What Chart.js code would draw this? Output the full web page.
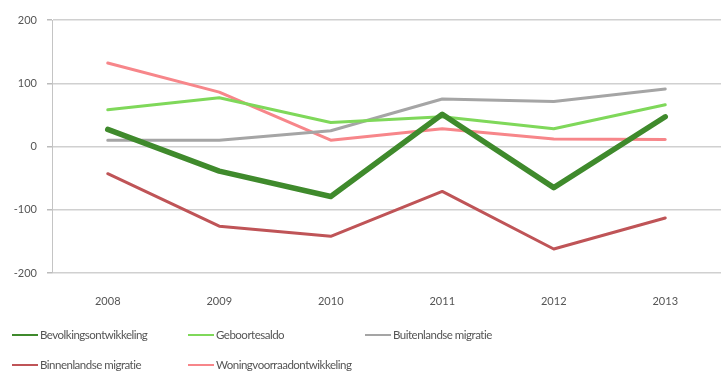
<!DOCTYPE html>
<html>
<head>
<meta charset="utf-8">
<script src="https://cdn.jsdelivr.net/npm/chart.js@4"></script>
<style>
  html, body { margin: 0; padding: 0; background: #fff; }
  #wrap { width: 721px; height: 374px; position: relative; }
</style>
</head>
<body>
<div id="wrap"><canvas id="myChart"></canvas></div>
<script>
const years = ['2008', '2009', '2010', '2011', '2012', '2013'];
const bevolking = [27, -39, -79, 51, -65, 47];
const geboorte = [58, 77, 38, 47, 28, 66];
const buitenland = [10, 10, 25, 75, 71, 91];
const binnenland = [-43, -126, -142, -71, -162, -113];
const woningvoorraad = [132, 86, 10, 28, 12, 11];

const fontFamily = 'Lato, sans-serif';

// legend is drawn by hand in 3 columns, like the original
const gridLegend = {
  id: 'gridLegend',
  afterDraw(chart) {
    const ctx = chart.ctx;
    const cols = [12, 188, 365];
    const rows = [335, 365];
    ctx.save();
    ctx.font = '11.5px ' + fontFamily;
    ctx.letterSpacing = '-0.5px';
    ctx.textBaseline = 'middle';
    chart.data.datasets.forEach((ds, i) => {
      const x = cols[i % 3];
      const y = rows[Math.floor(i / 3)];
      ctx.strokeStyle = ds.borderColor;
      ctx.lineWidth = 2;
      ctx.beginPath();
      ctx.moveTo(x, y);
      ctx.lineTo(x + 26, y);
      ctx.stroke();
      ctx.fillStyle = '#555';
      ctx.fillText(ds.label, x + 28, y);
    });
    ctx.restore();
  }
};

const ctx = document.getElementById('myChart');

new Chart(ctx, {
  type: 'line',
  data: {
    labels: years,
    datasets: [
      { label: 'Bevolkingsontwikkeling', data: bevolking, borderColor: '#3f8a2c', borderWidth: 5.5 },
      { label: 'Geboortesaldo', data: geboorte, borderColor: '#7fd85a', borderWidth: 3 },
      { label: 'Buitenlandse migratie', data: buitenland, borderColor: '#a5a5a5', borderWidth: 3 },
      { label: 'Binnenlandse migratie', data: binnenland, borderColor: '#bf5457', borderWidth: 3 },
      { label: 'Woningvoorraadontwikkeling', data: woningvoorraad, borderColor: '#f7868a', borderWidth: 3 }
    ]
  },
  options: {
    responsive: true,
    maintainAspectRatio: false,
    animation: false,
    elements: {
      point: { radius: 0, hoverRadius: 0 },
      line: { tension: 0, borderCapStyle: 'round', borderJoinStyle: 'round' }
    },
    layout: {
      padding: { top: 20, bottom: 65, left: 0, right: 0 }
    },
    plugins: {
      legend: { display: false },
      tooltip: { enabled: false }
    },
    scales: {
      x: {
        offset: true,
        grid: { display: false },
        border: { display: false },
        ticks: {
          color: '#555',
          font: { family: fontFamily, size: 11 },
          padding: 14
        },
        afterFit: (scale) => { scale.height = 36; }
      },
      y: {
        min: -200,
        max: 200,
        ticks: {
          stepSize: 100,
          color: '#555',
          font: { family: fontFamily, size: 11 },
          padding: 10
        },
        grid: {
          color: '#d0d0d0',
          lineWidth: 1.5,
          tickLength: 5,
          tickColor: '#bbb'
        },
        border: { color: '#c4c4c4', width: 1 },
        afterFit: (scale) => { scale.width = 52; }
      }
    }
  },
  plugins: [gridLegend]
});
</script>
</body>
</html>
